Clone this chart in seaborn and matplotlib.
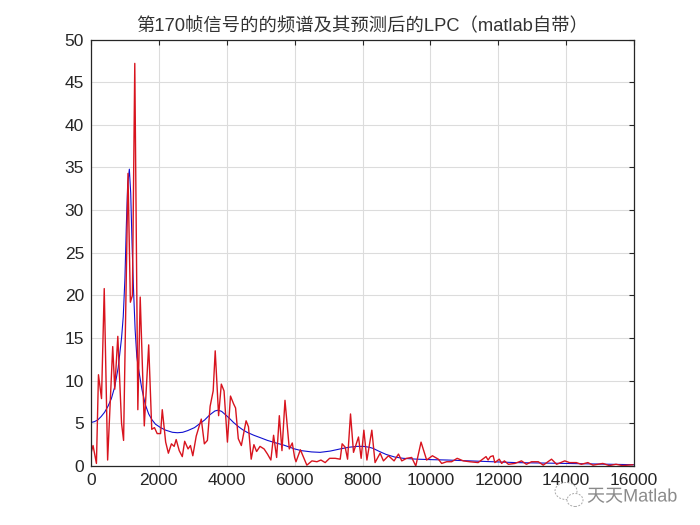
import matplotlib
matplotlib.use("Agg")
import matplotlib.pyplot as plt
import matplotlib.patheffects as pe
from matplotlib.patches import Ellipse
import seaborn as sns

# spectrum of the frame (red)
spec_freq = [0, 60, 160, 220, 310, 390, 490, 640, 700, 790, 900, 960, 1090, 1160, 1220, 1290, 1380, 1450,
             1570, 1700, 1790, 1870, 1950, 2050, 2100, 2200, 2280, 2370, 2450, 2510, 2600, 2690, 2760, 2860,
             2930, 3000, 3100, 3250, 3340, 3430, 3510, 3600, 3660, 3760, 3840, 3920, 4020, 4110, 4200, 4260,
             4340, 4430, 4570, 4640, 4720, 4800, 4880, 4980, 5100, 5200, 5300, 5380, 5470, 5549, 5627, 5716,
             5843, 5931, 6000, 6040, 6170, 6360, 6510, 6657, 6775, 6900, 7030, 7196, 7343, 7400, 7490, 7560,
             7647, 7735, 7882, 7960, 8040, 8130, 8275, 8370, 8520, 8617, 8765, 8930, 9060, 9157, 9300, 9450,
             9570, 9725, 9890, 10060, 10235, 10333, 10480, 10627, 10790, 10970, 11160, 11407, 11640, 11700,
             11770, 11850, 11900, 12030, 12100, 12180, 12300, 12490, 12685, 12830, 12980, 13180, 13325, 13570,
             13720, 13960, 14100, 14300, 14450, 14640, 14790, 15080, 15270, 15470, 15660, 15970]
spec_amp = [1.5, 2.4, 0.3, 10.7, 7.9, 20.8, 0.7, 14.0, 9.0, 15.2, 5.0, 3.0, 34.3, 19.2, 20.0, 47.2, 6.6, 19.8,
            4.7, 14.2, 4.3, 4.5, 3.8, 3.8, 6.6, 2.8, 1.5, 2.6, 2.3, 3.1, 1.8, 1.1, 2.9, 2.0,
            2.4, 1.2, 3.5, 5.5, 2.6, 3.0, 7.0, 8.8, 13.5, 5.9, 9.6, 8.8, 2.8, 8.2, 7.3, 6.8,
            3.2, 2.4, 5.3, 4.6, 0.8, 2.5, 1.7, 2.3, 2.0, 1.4, 0.7, 3.6, 1.0, 5.9, 1.8, 7.7,
            2.0, 2.7, 1.0, 0.5, 1.9, 0.1, 0.6, 0.5, 0.7, 0.4, 0.9, 0.9, 0.8, 2.6, 2.2, 0.8,
            6.1, 1.6, 3.4, 0.9, 4.2, 0.7, 4.2, 0.4, 1.5, 0.6, 1.2, 0.6, 1.4, 0.6, 0.9, 1.0,
            0.0, 2.8, 0.7, 1.2, 0.8, 0.3, 0.5, 0.5, 0.9, 0.6, 0.5, 0.4, 1.1, 0.7,
            1.1, 1.2, 0.4, 0.8, 0.3, 0.6, 0.2, 0.3, 0.6, 0.2, 0.5, 0.5, 0.1, 0.8,
            0.2, 0.6, 0.4, 0.4, 0.2, 0.4, 0.1, 0.3, 0.05, 0.2, 0.05, 0.15]

# LPC envelope (blue)
lpc_freq = [0, 100, 200, 300, 400, 500, 600, 700, 800, 900, 950, 1000, 1040, 1080, 1130, 1170, 1210, 1250, 1300,
            1350, 1400, 1450, 1500, 1600, 1700, 1800, 1900, 2050, 2200, 2400, 2550, 2700, 2850, 3050, 3200, 3350,
            3500, 3650, 3750, 3850, 3950, 4050, 4200, 4350, 4470, 4600, 4800, 4970, 5200, 5450, 5680, 6000, 6200,
            6500, 6750, 7050, 7340, 7600, 7850, 8030, 8200, 8320, 8500, 8700, 8950, 9200, 9600, 10000, 10500,
            11160, 12500, 14000, 16000]
lpc_amp = [5.1, 5.2, 5.4, 5.8, 6.3, 7.0, 7.9, 9.3, 11.5, 15.0, 17.5, 22.0, 28.0, 33.0, 34.8, 32.0, 26.0, 21.0, 16.0,
           12.8, 11.4, 10.2, 9.0, 7.2, 6.1, 5.4, 4.9, 4.5, 4.2, 3.95, 3.9, 3.95, 4.15, 4.5, 4.95, 5.4,
           6.0, 6.45, 6.55, 6.4, 6.05, 5.7, 5.1, 4.6, 4.25, 3.95, 3.6, 3.35, 3.0, 2.7, 2.45, 2.0, 1.8,
           1.65, 1.6, 1.75, 2.0, 2.2, 2.3, 2.3, 2.2, 2.05, 1.7, 1.35, 1.05, 0.9, 0.8, 0.75, 0.7,
           0.6, 0.4, 0.3, 0.15]

x_ticks = [0, 2000, 4000, 6000, 8000, 10000, 12000, 14000, 16000]
y_ticks = [0, 5, 10, 15, 20, 25, 30, 35, 40, 45, 50]
title = "第170帧信号的的频谱及其预测后的LPC（matlab自带）"

sns.set_theme(style="whitegrid")
plt.rcParams["font.family"] = ["Liberation Sans", "Noto Sans CJK SC", "DejaVu Sans"]

fig = plt.figure(figsize=(7, 5.25), dpi=100)
ax = fig.add_axes([91 / 700, 1 - 466 / 525, 543 / 700, 426.5 / 525])

sns.lineplot(x=lpc_freq, y=lpc_amp, color="#1010d0", linewidth=0.8, estimator=None, sort=False, ax=ax)
sns.lineplot(x=spec_freq, y=spec_amp, color="#d8141e", linewidth=1.0, estimator=None, sort=False, ax=ax)

ax.set_xlim(0, 16000)
ax.set_ylim(0, 50)
ax.set_xticks(x_ticks)
ax.set_yticks(y_ticks)
ax.grid(True, color="#dcdcdc", linewidth=0.8)
ax.tick_params(direction="in", length=3.5, width=0.8, color="#262626", labelsize=12.5,
               labelcolor="#262626", top=True, right=True, pad=5)
for spine in ax.spines.values():
    spine.set_color("#262626")
    spine.set_linewidth(0.9)
ax.set_title(title, fontsize=13.2, color="#333333", pad=6, fontweight="light")

# watermark, drawn over the last tick labels
halo = [pe.withStroke(linewidth=2, foreground="white")]
fig.text(587 / 700, 1 - 497 / 525, "天天Matlab", fontsize=13, color="#8a8a8a", va="center", path_effects=halo)
for cx, cy, w, h in [(566, 491, 22, 17), (575, 500, 16, 13)]:
    fig.add_artist(Ellipse((cx / 700, 1 - cy / 525), w / 700, h / 525, transform=fig.transFigure,
                           facecolor="white", edgecolor="#aaaaaa", linewidth=0.7, linestyle=(0, (2, 1.5))))

fig.savefig("out.png", dpi=100)
